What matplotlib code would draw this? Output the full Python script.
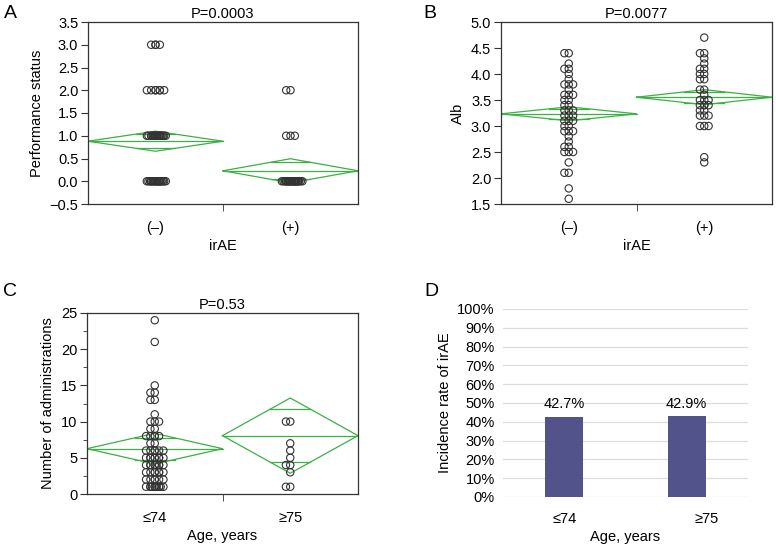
import numpy as np
import matplotlib
matplotlib.use("Agg")
import matplotlib.pyplot as plt
from matplotlib.ticker import MultipleLocator, FixedLocator
from matplotlib.transforms import ScaledTranslation

plt.rcParams['font.family'] = ['Liberation Sans', 'DejaVu Sans']
plt.rcParams['font.size'] = 10.5

# ---- data ----
# A: performance status by irAE
ps_neg = [3]*4 + [2]*7 + [1]*19 + [0]*21
ps_pos = [2]*2 + [1]*3 + [0]*25
ps_mean = [0.88, 0.23]
ps_ci = [0.22, 0.265]

# B: albumin by irAE
alb_neg = [1.6, 1.8, 2.1, 2.1, 2.3, 2.5, 2.5, 2.5, 2.6, 2.6, 2.7, 2.8,
           2.9, 2.9, 2.9, 3.0, 3.0, 3.1, 3.1, 3.1, 3.2, 3.2, 3.2, 3.3, 3.3, 3.3,
           3.4, 3.4, 3.5, 3.5, 3.6, 3.6, 3.6, 3.7, 3.8, 3.8, 3.8, 3.9, 4.0,
           4.1, 4.1, 4.2, 4.4, 4.4]
alb_pos = [2.3, 2.4, 3.0, 3.0, 3.0, 3.2, 3.2, 3.2, 3.3, 3.3, 3.4, 3.4, 3.4, 3.4,
           3.5, 3.5, 3.5, 3.6, 3.7, 3.7, 3.9, 3.9, 4.0, 4.0, 4.1, 4.1, 4.2,
           4.3, 4.4, 4.4, 4.7]
alb_mean = [3.234, 3.554]
alb_ci = [0.135, 0.145]

# C: number of administrations by age
adm_young = ([24, 21, 15, 14, 14, 13, 13, 11, 10, 10, 10, 9, 9] + [8]*5 + [7]*2
             + [6]*6 + [5]*8 + [4]*9 + [3]*7 + [2]*6 + [1]*12)
adm_old = [10, 10, 7, 6, 5, 4, 4, 3, 1, 1]
adm_mean = [6.26, 8.06]
adm_ci = [2.12, 5.2]

# D: incidence of irAE
age_groups = ['≤74', '≥75']
incidence = [42.7, 42.9]

GREEN = '#3cb043'
EDGE = '#333333'


def jitter(values):
    # spread repeated values sideways a little so they stay visible
    pattern = [0, -1, 1, 0, -2, 2, 1, -1]
    seen = {}
    out = []
    for v in values:
        k = seen.get(v, 0)
        seen[v] = k + 1
        out.append(pattern[k % 8] * 0.032 + (k // 8) * 0.012)
    return np.array(out)


def oneway(ax, groups, means, cis, labels, ylim, ystep, title, xlabel, ylabel, minor=None):
    for i, vals in enumerate(groups):
        c = i + 0.5
        x = c + jitter(vals)
        ax.scatter(x, vals, s=28, facecolors='none', edgecolors=EDGE, linewidths=0.8, zorder=3)
        m, ci = means[i], cis[i]
        ax.plot([i, c, i + 1, c, i], [m, m + ci, m, m - ci, m], color=GREEN, lw=0.9, zorder=2)
        ax.plot([i, i + 1], [m, m], color=GREEN, lw=0.9, zorder=2)
        hw = 0.5 * (1 - 1 / np.sqrt(2))
        for s in (1, -1):
            y = m + s * ci / np.sqrt(2)
            ax.plot([c - hw, c + hw], [y, y], color=GREEN, lw=0.9, zorder=2)
    ax.set_xlim(0, 2)
    ax.set_ylim(*ylim)
    ax.set_xticks([0.5, 1.5])
    ax.set_xticklabels(labels)
    ax.tick_params(axis='x', length=0, pad=12)
    ax.xaxis.set_minor_locator(FixedLocator([1.0]))
    ax.tick_params(axis='x', which='minor', length=5, color=EDGE)
    ax.yaxis.set_major_locator(MultipleLocator(ystep))
    if minor:
        ax.yaxis.set_minor_locator(MultipleLocator(minor))
        ax.tick_params(axis='y', which='minor', length=3, color=EDGE)
    ax.tick_params(axis='y', length=5, pad=2, color=EDGE)
    for sp in ax.spines.values():
        sp.set_color(EDGE)
        sp.set_linewidth(0.9)
    ax.set_title(title, fontsize=10.5, pad=3)
    ax.set_xlabel(xlabel, labelpad=3)
    ax.set_ylabel(ylabel, labelpad=4)


fig = plt.figure(figsize=(7.76, 5.44), dpi=100)
W, H = 776, 544


def rect(x0, x1, y0, y1):
    return [x0 / W, (H - y1) / H, (x1 - x0) / W, (y1 - y0) / H]


def letter(x, y, s):
    fig.text(x / W, 1 - y / H, s, fontsize=14, ha='center', va='center')


axA = fig.add_axes(rect(88, 358, 22, 204))
oneway(axA, [ps_neg, ps_pos], ps_mean, ps_ci, ['(–)', '(+)'], (-0.5, 3.5), 0.5,
       'P=0.0003', 'irAE', 'Performance status')
axA.yaxis.set_major_formatter(lambda v, p: f'{v:.1f}'.replace('-', '−'))
letter(10, 14, 'A')

axB = fig.add_axes(rect(501, 772, 22, 204))
oneway(axB, [alb_neg, alb_pos], alb_mean, alb_ci, ['(–)', '(+)'], (1.5, 5.0), 0.5,
       'P=0.0077', 'irAE', 'Alb')
axB.yaxis.set_major_formatter(lambda v, p: f'{v:.1f}')
letter(430, 14, 'B')

axC = fig.add_axes(rect(87, 358, 313, 494))
oneway(axC, [adm_young, adm_old], adm_mean, adm_ci, age_groups, (0, 25), 5,
       'P=0.53', 'Age, years', 'Number of administrations', minor=2.5)
letter(10, 291, 'C')

# D: bar chart
axD = fig.add_axes(rect(503, 748, 309, 497))
xs = np.arange(len(age_groups))
axD.bar(xs, incidence, width=0.31, color='#51538a', zorder=3)
for x, v in zip(xs, incidence):
    axD.text(x, v + 3, f'{v}%', ha='center', va='bottom', fontsize=10.5)
axD.set_xlim(-0.5, 1.5)
axD.set_ylim(0, 100)
axD.yaxis.set_major_locator(MultipleLocator(10))
axD.yaxis.set_major_formatter(lambda v, p: f'{int(round(v))}%')
axD.grid(axis='y', color='#dddddd', lw=0.9, zorder=0)
for sp in axD.spines.values():
    sp.set_visible(False)
axD.tick_params(length=0)
axD.tick_params(axis='x', pad=11)
axD.tick_params(axis='y', pad=6)
axD.set_xticks(xs)
axD.set_xticklabels(age_groups)
lab = axD.get_xticklabels()[1]
lab.set_transform(lab.get_transform() + ScaledTranslation(0.2, 0, fig.dpi_scale_trans))
axD.set_xlabel('Age, years', labelpad=3)
axD.set_ylabel('Incidence rate of irAE', labelpad=4)
letter(431, 292, 'D')

fig.savefig('out.png', dpi=100)
